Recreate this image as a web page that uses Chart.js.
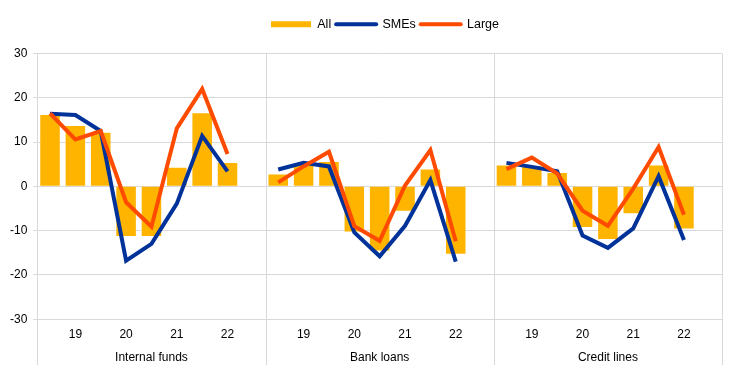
<!DOCTYPE html>
<html>
<head>
<meta charset="utf-8">
<script src="https://cdn.jsdelivr.net/npm/chart.js@4/dist/chart.umd.min.js"></script>
<style>
    html, body { margin: 0; padding: 0; background: #fff; }
    #wrap { width: 743px; height: 374px; }
</style>
</head>
<body>
<div id="wrap"><canvas id="canvas"></canvas></div>
<script>
// 3 panneaux de 8 semestres + une case vide en fin de panneau
const panels = ["Internal funds", "Bank loans", "Credit lines"];
const years = ["", "19", "", "20", "", "21", "", "22", ""];

const allInternal = [16.1, 13.6, 12.1, -11.2, -11.2, 4.2, 16.5, 5.3];
const smeInternal = [16.4, 16.1, 12.5, -16.8, -13.0, -3.9, 11.4, 3.4];
const largeInternal = [16.5, 10.6, 12.5, -3.6, -9.1, 13.1, 22.0, 7.3];

const allBank = [2.7, 4.8, 5.5, -10.2, -14.5, -5.5, 3.8, -15.2];
const smeBank = [3.8, 5.3, 4.5, -10.4, -15.8, -8.9, 1.4, -17.0];
const largeBank = [0.9, 4.5, 7.8, -9.0, -12.3, 0.2, 8.2, -12.4];

const allCredit = [4.7, 4.5, 3.0, -9.2, -11.9, -6.1, 4.7, -9.5];
const smeCredit = [5.3, 4.4, 3.4, -11.1, -13.9, -9.5, 2.3, -12.1];
const largeCredit = [3.9, 6.5, 2.9, -5.5, -8.9, -0.5, 8.9, -6.4];

// colle les panneaux avec un null entre chaque (coupe les lignes)
function joinPanels(a, b, c) {
    return [...a, null, ...b, null, ...c, null];
}

const labels = [...years, ...years, ...years];
const groupLabels = [];
for (let i = 0; i < panels.length; i++) {
    for (let k = 0; k < years.length; k++) {
        groupLabels.push(k === 4 ? panels[i] : "");
    }
}

const gridColor = "#d9d9d9";
const font = "'Liberation Sans', Arial, sans-serif";

// traits verticaux entre panneaux, prolongés sous l'axe
const separators = {
    id: "separators",
    beforeDatasetsDraw(chart) {
        const x = chart.scales.x;
        const ctx = chart.ctx;
        const n = labels.length;
        const slot = x.getPixelForValue(1) - x.getPixelForValue(0);
        ctx.save();
        ctx.strokeStyle = gridColor;
        ctx.lineWidth = 1;
        for (let b = 0; b <= n; b += years.length) {
            let px;
            if (b === 0) px = x.left;
            else if (b === n) px = x.right;
            else px = x.getPixelForValue(b) - slot / 2;
            px = Math.round(px) + 0.5;
            ctx.beginPath();
            ctx.moveTo(px, chart.chartArea.top);
            ctx.lineTo(px, chart.height - 9);
            ctx.stroke();
        }
        ctx.restore();
    }
};

// marge sous la légende + légende centrée un peu à droite
const legendTweak = {
    id: "legendTweak",
    beforeInit(chart) {
        const fit = chart.legend.fit;
        chart.legend.fit = function() {
            fit.bind(chart.legend)();
            this.height += 13;
        };
    },
    afterLayout(chart) {
        chart.legend.left += 22;
        chart.legend.right += 22;
    }
};

const config = {
    type: "bar",
    data: {
        labels: labels,
        datasets: [
            {
                label: "All",
                data: joinPanels(allInternal, allBank, allCredit),
                backgroundColor: "#FFB400",
                borderWidth: 0,
                categoryPercentage: 1,
                barPercentage: 0.77,
                order: 2
            },
            {
                type: "line",
                label: "SMEs",
                data: joinPanels(smeInternal, smeBank, smeCredit),
                borderColor: "#003299",
                backgroundColor: "#003299",
                borderWidth: 4,
                pointRadius: 0,
                spanGaps: false,
                tension: 0,
                order: 1
            },
            {
                type: "line",
                label: "Large",
                data: joinPanels(largeInternal, largeBank, largeCredit),
                borderColor: "#FF4B00",
                backgroundColor: "#FF4B00",
                borderWidth: 4,
                pointRadius: 0,
                spanGaps: false,
                tension: 0,
                order: 0
            }
        ]
    },
    options: {
        responsive: true,
        maintainAspectRatio: false,
        animation: false,
        layout: { padding: { left: 4, right: 21, top: 13, bottom: 8 } },
        plugins: {
            tooltip: { enabled: false },
            legend: {
                position: "top",
                labels: {
                    usePointStyle: true,
                    pointStyleWidth: 40,
                    boxHeight: 6,
                    padding: 5,
                    color: "#000",
                    font: { family: font, size: 12.5 },
                    sort: (a, b) => a.datasetIndex - b.datasetIndex,
                    generateLabels: function(chart) {
                        const items = Chart.defaults.plugins.legend.labels.generateLabels(chart);
                        items.forEach(function(it) {
                            it.pointStyle = it.datasetIndex === 0 ? "rect" : "line";
                            it.lineWidth = it.datasetIndex === 0 ? 0 : 4;
                            it.lineCap = "round";
                        });
                        return items;
                    }
                }
            }
        },
        scales: {
            x: {
                type: "category",
                grid: { display: false },
                border: { display: false },
                ticks: {
                    autoSkip: false,
                    maxRotation: 0,
                    padding: 0,
                    color: "#000",
                    font: { family: font, size: 12 }
                }
            },
            x2: {
                type: "category",
                position: "bottom",
                labels: groupLabels,
                grid: { display: false },
                border: { display: false },
                ticks: {
                    autoSkip: false,
                    maxRotation: 0,
                    padding: 1,
                    color: "#000",
                    font: { family: font, size: 12 }
                }
            },
            y: {
                min: -30,
                max: 30,
                grid: { color: gridColor, tickLength: 4 },
                border: { display: false },
                ticks: {
                    stepSize: 10,
                    padding: 6,
                    color: "#000",
                    font: { family: font, size: 12 }
                }
            }
        }
    },
    plugins: [separators, legendTweak]
};

new Chart(document.getElementById("canvas"), config);
</script>
</body>
</html>
